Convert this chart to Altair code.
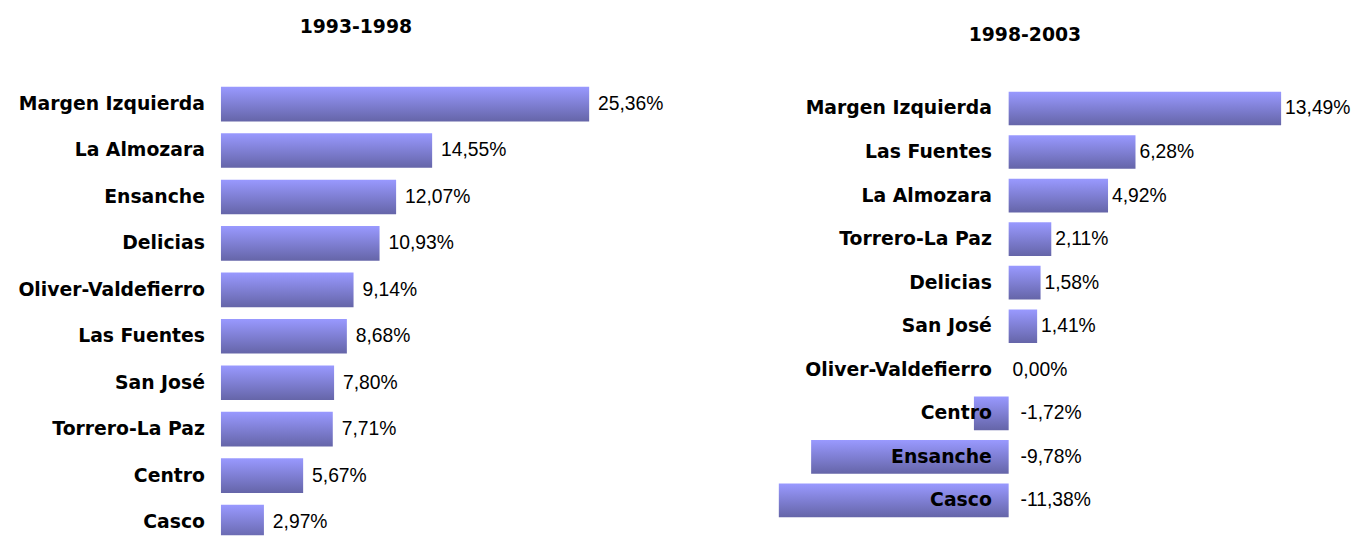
import altair as alt
import pandas as pd

left_title = "1993-1998"
left_cats = ["Margen Izquierda", "La Almozara", "Ensanche", "Delicias", "Oliver-Valdefierro",
             "Las Fuentes", "San José", "Torrero-La Paz", "Centro", "Casco"]
left_vals = [25.36, 14.55, 12.07, 10.93, 9.14, 8.68, 7.80, 7.71, 5.67, 2.97]

right_title = "1998-2003"
right_cats = ["Margen Izquierda", "Las Fuentes", "La Almozara", "Torrero-La Paz", "Delicias",
              "San José", "Oliver-Valdefierro", "Centro", "Ensanche", "Casco"]
right_vals = [13.49, 6.28, 4.92, 2.11, 1.58, 1.41, 0.00, -1.72, -9.78, -11.38]

LABEL_FONT = "DejaVu Sans"
VALUE_FONT = "Liberation Sans"

grad = alt.Gradient(
    gradient="linear", x1=0, x2=0, y1=0, y2=1,
    stops=[alt.GradientStop(offset=0, color="#9999ff"),
           alt.GradientStop(offset=1, color="#6565a8")],
)


def make_df(cats, vals, half):
    rows = []
    for i, (c, v) in enumerate(zip(cats, vals)):
        rows.append({
            "cat": c, "val": v, "zero": 0.0, "pos": i,
            "lo": i - half, "hi": i + half,
            "lx": max(v, 0.0),
            "lbl": f"{v:.2f}%".replace(".", ","),
        })
    return pd.DataFrame(rows)


def panel(cats, vals, title, xdom, ydom, width, half, lab_dx, val_dx_pos, val_dx_neg,
          t_dx, t_off):
    df = make_df(cats, vals, half)
    xs = alt.Scale(domain=xdom, nice=False, zero=False)
    ys = alt.Scale(domain=ydom, nice=False, zero=False, reverse=True)
    base = alt.Chart(df)
    bars = base.mark_rect(clip=True, fill=grad).encode(
        x=alt.X("val:Q", scale=xs, axis=None),
        x2="zero:Q",
        y=alt.Y("lo:Q", scale=ys, axis=None),
        y2="hi:Q",
    )
    cat_text = base.mark_text(
        align="right", baseline="middle", dx=lab_dx,
        font=LABEL_FONT, fontSize=19, fontWeight="bold", color="#000000",
    ).encode(
        x=alt.X("zero:Q", scale=xs, axis=None),
        y=alt.Y("pos:Q", scale=ys, axis=None),
        text="cat:N",
    )
    pos_text = base.transform_filter(alt.datum.val >= 0).mark_text(
        align="left", baseline="middle", dx=val_dx_pos,
        font=VALUE_FONT, fontSize=19.5, color="#000000",
    ).encode(
        x=alt.X("lx:Q", scale=xs, axis=None),
        y=alt.Y("pos:Q", scale=ys, axis=None),
        text="lbl:N",
    )
    layers = [bars, cat_text, pos_text]
    if min(vals) < 0:
        neg_text = base.transform_filter(alt.datum.val < 0).mark_text(
            align="left", baseline="middle", dx=val_dx_neg,
            font=VALUE_FONT, fontSize=19.5, color="#000000",
        ).encode(
            x=alt.X("lx:Q", scale=xs, axis=None),
            y=alt.Y("pos:Q", scale=ys, axis=None),
            text="lbl:N",
        )
        layers.append(neg_text)
    return alt.layer(*layers).properties(
        width=width, height=477,
        title=alt.Title(title, font=LABEL_FONT, fontSize=19, fontWeight="bold",
                        color="#000000", anchor="middle", dx=t_dx, offset=t_off,
                        baseline="alphabetic"),
    )


left = panel(left_cats, left_vals, left_title,
             xdom=[0, 31], ydom=[-0.88, 9.284], width=455, half=0.373,
             lab_dx=-16, val_dx_pos=9, val_dx_neg=9, t_dx=-91, t_off=11)
right = panel(right_cats, right_vals, right_title,
              xdom=[-12.5, 14.5], ydom=[-1.04, 9.80], width=551, half=0.386,
              lab_dx=-17, val_dx_pos=4, val_dx_neg=12, t_dx=-4, t_off=3)

chart = alt.hconcat(left, right, spacing=86).properties(
    padding={"left": 10, "top": 8, "right": 0, "bottom": 0},
    background="#ffffff",
).configure_view(stroke=None)

chart.save("out.html", embed_options={"renderer": "svg", "actions": False})
